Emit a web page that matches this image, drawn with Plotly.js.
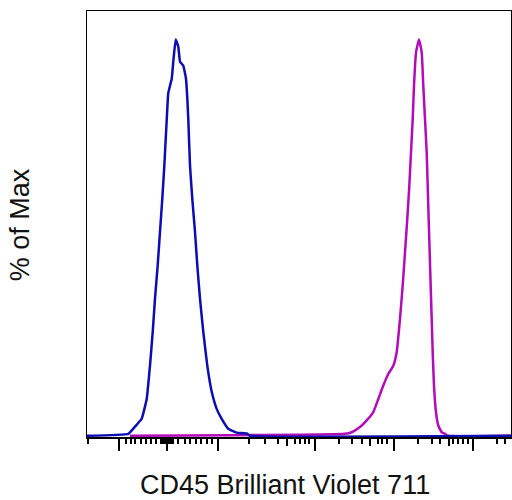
<!DOCTYPE html>
<html>
<head>
<meta charset="utf-8">
<script src="https://cdn.plot.ly/plotly-3.0.1.min.js"></script>
<style>html,body{margin:0;padding:0;background:#fff;}#chart{width:512px;height:500px;}</style>
</head>
<body>
<div id="chart"></div>
<script>
// Display-channel scale (0..1024) of a biexponential CD45 BV711 axis
var blueX = [0, 99.7, 115.9, 132.1, 144.2, 152.1, 158.7, 164.2, 170.7, 176.3, 181.8, 186.7, 192.5, 196.3, 204.6, 208.9, 214.2, 220.5, 224.6, 232.6, 239.1, 242.3, 244.6, 248.8, 254.3, 260.8, 266.4, 272.9, 280.9, 290.5, 301.2, 313.2, 325.3, 341.2, 361.5, 385.7, 393.6, 1024];
var blueY = [0, 0.5, 2.3, 4.3, 9.3, 17.7, 26.2, 34.6, 43.0, 51.5, 59.8, 68.1, 79.7, 86.5, 90.1, 95.0, 100, 98.2, 94.4, 93.4, 90.1, 85.0, 80.0, 68.1, 59.8, 51.5, 43.0, 34.6, 26.2, 17.7, 11.1, 6.8, 4.3, 1.8, 0.8, 0.6, 0, 0];

var magentaX = [103.8, 623.1, 639.3, 659.3, 675.5, 691.4, 703.5, 715.6, 727.6, 739.7, 747.9, 755.9, 762.4, 768.0, 773.5, 778.4, 782.5, 786.6, 789.7, 794.6, 801.8, 808.3, 812.2, 816.3, 820.4, 822.8, 825.2, 827.6, 830.0, 832.5, 834.9, 838.0, 842.8, 848.4, 856.6, 864.6, 871.8, 1024];
var magentaY = [0, 0.5, 0.9, 2.2, 3.9, 6.0, 9.3, 12.7, 15.6, 17.7, 21.1, 29.5, 37.9, 46.3, 54.7, 63.1, 71.5, 79.9, 88.3, 96.7, 100, 96.7, 88.3, 79.9, 71.5, 63.1, 54.7, 46.3, 37.9, 29.5, 21.1, 12.7, 6.0, 2.6, 0.9, 0.5, 0, 0];

// Tick positions on the display scale (no labels shown in the reference)
var majorTicks = [77.3, 193.2, 316.4, 550.6, 741.4, 932.2];
var mediumTicks = [483.0, 683.4, 874.2];
var minorTicks = [2.4, 94.2, 106.3, 115.9, 130.4, 142.5, 154.6, 166.6, 178.7, 183.5, 188.4, 198.0, 202.9, 207.7, 219.8, 236.7, 248.7, 263.2, 275.3, 289.8, 301.9, 391.2, 429.9, 461.3, 502.3, 514.4, 526.5, 536.1, 608.6, 640.0, 664.1, 702.8, 712.4, 724.5, 799.4, 833.2, 852.5, 883.9, 896.0, 908.1, 920.2, 990.2, 1009.5];

var xTitle = "CD45 Brilliant Violet 711";
var yTitle = "% of Max";

var xRange = [0, 1024];
var yRange = [-0.3, 107.2];

var traces = [
  {x: magentaX, y: magentaY, type: 'scatter', mode: 'lines', line: {color: '#b20cb8', width: 2.5, shape: 'spline', smoothing: 0.4}, hoverinfo: 'skip'},
  {x: blueX, y: blueY, type: 'scatter', mode: 'lines', line: {color: '#0c0cb4', width: 2.5, shape: 'spline', smoothing: 0.3}, hoverinfo: 'skip'}
];

var font = {family: 'Liberation Sans, Arial, sans-serif', color: '#111'};

var layout = {
  width: 512, height: 500,
  margin: {l: 87, r: 1, t: 11, b: 63},
  paper_bgcolor: '#fff', plot_bgcolor: '#fff',
  showlegend: false,
  font: font,
  xaxis: {
    range: xRange, showgrid: false, zeroline: false,
    showline: true, mirror: true, linecolor: '#000', linewidth: 1.5,
    ticks: 'outside', tickmode: 'array', tickvals: majorTicks, ticklen: 12, tickwidth: 2, tickcolor: '#000',
    showticklabels: false, layer: 'below traces',
    minor: {tickmode: 'array', tickvals: minorTicks, ticks: 'outside', ticklen: 5, tickwidth: 2, tickcolor: '#000', showgrid: false}
  },
  xaxis2: {
    range: xRange, overlaying: 'x', anchor: 'y', side: 'bottom',
    showgrid: false, zeroline: false, showline: false,
    ticks: 'outside', tickmode: 'array', tickvals: mediumTicks, ticklen: 8, tickwidth: 2, tickcolor: '#000',
    showticklabels: false, layer: 'below traces'
  },
  yaxis: {
    range: yRange, showgrid: false, zeroline: false,
    showline: true, mirror: true, linecolor: '#000', linewidth: 1.5,
    ticks: '', showticklabels: false, layer: 'below traces'
  },
  annotations: [
    {text: xTitle, xref: 'paper', yref: 'paper', x: 0.467, y: -0.113, xanchor: 'center', yanchor: 'middle', showarrow: false, font: {family: font.family, color: '#111', size: 27}},
    {text: yTitle, xref: 'paper', yref: 'paper', x: -0.158, y: 0.497, xanchor: 'center', yanchor: 'middle', textangle: -90, showarrow: false, font: {family: font.family, color: '#111', size: 27}}
  ]
};

traces.push({x: [0], y: [0], xaxis: 'x2', yaxis: 'y', type: 'scatter', mode: 'markers', marker: {opacity: 0}, hoverinfo: 'skip'});

Plotly.newPlot('chart', traces, layout, {staticPlot: true});
</script>
</body>
</html>
